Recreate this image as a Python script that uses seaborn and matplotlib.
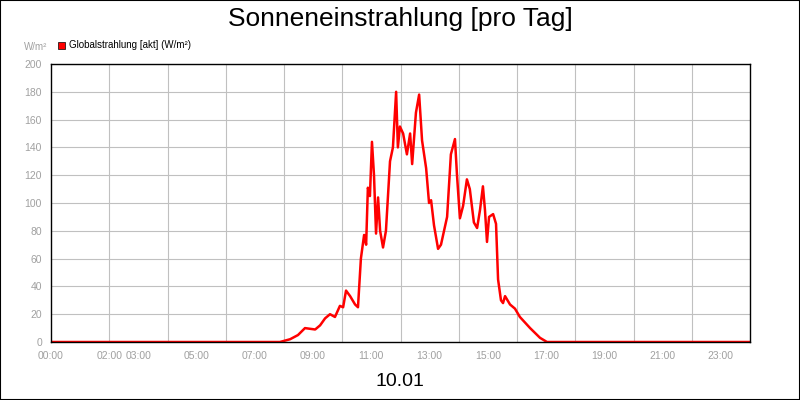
import numpy as np
import pandas as pd
import matplotlib
matplotlib.use("Agg")
import matplotlib.pyplot as plt
import seaborn as sns
from matplotlib.patches import Rectangle

# Zeit in Stunden, Globalstrahlung in W/m²
hours = [0, 7.86, 8.21, 8.48, 8.72, 9.07, 9.24, 9.41, 9.58, 9.75, 9.92, 10.03, 10.13,
         10.27, 10.44, 10.54, 10.64, 10.75, 10.82, 10.88, 10.95, 11.02, 11.09, 11.16,
         11.23, 11.30, 11.40, 11.50, 11.64, 11.74, 11.85, 11.91, 11.98, 12.09, 12.22,
         12.33, 12.40, 12.53, 12.64, 12.74, 12.88, 12.98, 13.05, 13.15, 13.29, 13.39,
         13.60, 13.73, 13.87, 13.94, 14.04, 14.15, 14.28, 14.38, 14.52, 14.63, 14.73,
         14.83, 14.90, 14.97, 15.04, 15.18, 15.28, 15.35, 15.45, 15.52, 15.59, 15.76,
         15.93, 16.10, 16.45, 16.79, 17.03, 24]
radiation = [0, 0, 2, 5, 10, 9, 12, 17, 20, 18, 26, 25, 37,
             33, 27, 25, 60, 77, 70, 111, 105, 144, 120, 78,
             104, 80, 68, 80, 130, 140, 180, 140, 155, 150, 135,
             150, 128, 165, 178, 145, 125, 100, 102, 84, 67, 70,
             90, 135, 146, 120, 89, 98, 117, 110, 86, 82, 95,
             112, 95, 72, 90, 92, 85, 45, 30, 28, 33, 27,
             24, 18, 10, 3, 0, 0]

tick_hours = [0, 2, 3, 5, 7, 9, 11, 13, 15, 17, 19, 21, 23]
tick_labels = ["00:00", "02:00", "03:00", "05:00", "07:00", "09:00", "11:00",
               "13:00", "15:00", "17:00", "19:00", "21:00", "23:00"]
y_ticks = list(range(0, 201, 20))

df = pd.DataFrame({"h": hours, "w": radiation})

sns.set_style("white")
plt.rcParams["font.family"] = ["Liberation Sans", "DejaVu Sans"]
fig = plt.figure(figsize=(8, 4), dpi=100)
fig.patches.append(Rectangle((0, 0), 1, 1, transform=fig.transFigure,
                             fill=False, edgecolor="black", linewidth=1.5))
ax = fig.add_axes([51 / 800, 1 - 342 / 400, 699 / 800, 278 / 400])

for g in range(2, 24, 2):
    ax.axvline(g, color="#c0c0c0", linewidth=0.8, zorder=0)
for y in y_ticks[1:]:
    ax.axhline(y, color="#c0c0c0", linewidth=0.8, zorder=0)

sns.lineplot(data=df, x="h", y="w", color="red", linewidth=1.8, ax=ax)
ax.set_xlim(0, 24)
ax.set_ylim(0, 200)
ax.set_xticks(tick_hours)
ax.set_xticklabels(tick_labels)
ax.set_yticks(y_ticks)
ax.tick_params(labelsize=7.5, colors="#a0a0a0", length=3)
ax.set_xlabel("")
ax.set_ylabel("")
for s in ax.spines.values():
    s.set_color("black")
    s.set_linewidth(1)

fig.text(0.5, 0.953, "Sonneneinstrahlung [pro Tag]", ha="center", va="center",
         fontsize=19, color="black")
fig.text(0.5, 0.047, "10.01", ha="center", va="center", fontsize=14, color="black")
fig.text(24 / 800, 1 - 47 / 400, "W/m²", fontsize=7, color="#a0a0a0", va="center")
fig.patches.append(Rectangle((58 / 800, 1 - 49 / 400), 7 / 800, 7 / 400,
                             transform=fig.transFigure, facecolor="red",
                             edgecolor="black", linewidth=0.5))
fig.text(69 / 800, 1 - 45 / 400, "Globalstrahlung [akt] (W/m²)", fontsize=7,
         va="center", color="black")

fig.savefig("out.png", dpi=100)
